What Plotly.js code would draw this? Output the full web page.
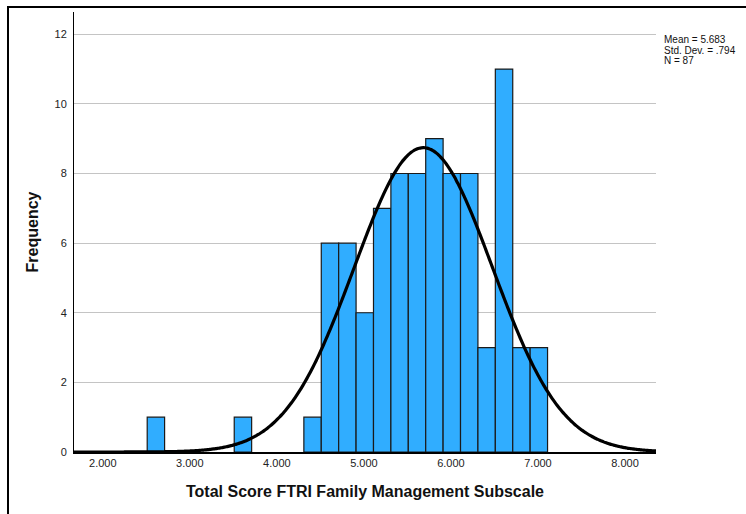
<!DOCTYPE html>
<html>
<head>
<meta charset="utf-8">
<script src="https://cdn.plot.ly/plotly-3.0.1.min.js"></script>
<style>
  html, body { margin: 0; padding: 0; background: #ffffff; }
  #chart { width: 746px; height: 514px; }
</style>
</head>
<body>
<div id="chart"></div>
<script>
// Histogram bins (centre of each 0.2-wide bin) and their frequencies
const binCenters = [2.61, 3.61, 4.41, 4.61, 4.81, 5.01, 5.21, 5.41, 5.61, 5.81, 6.01, 6.21, 6.41, 6.61, 6.81, 7.01];
const frequencies = [1, 1, 1, 6, 6, 4, 7, 8, 8, 9, 8, 8, 3, 11, 3, 3];
const binWidth = 0.2;

// Summary statistics shown in the corner
const statMean = 5.683;
const statSD = 0.794;
const statN = 87;
const statLabels = ["Mean = 5.683", "Std. Dev. = .794", "N = 87"];

// Axis ticks
const xTicks = [2, 3, 4, 5, 6, 7, 8];
const xTickText = ["2.000", "3.000", "4.000", "5.000", "6.000", "7.000", "8.000"];
const yTicks = [0, 2, 4, 6, 8, 10, 12];

const xRange = [1.669, 8.356];
const yRange = [0, 12.64];

// Normal curve scaled to histogram counts
const curveX = [];
const curveY = [];
const steps = 300;
for (let i = 0; i <= steps; i++) {
  const x = xRange[0] + (xRange[1] - xRange[0]) * i / steps;
  const z = (x - statMean) / statSD;
  curveX.push(x);
  curveY.push(statN * binWidth / (statSD * Math.sqrt(2 * Math.PI)) * Math.exp(-0.5 * z * z));
}

const font = "Arial, 'Liberation Sans', sans-serif";

const bars = {
  type: "bar",
  x: binCenters,
  y: frequencies,
  width: binCenters.map(() => binWidth),
  marker: { color: "#30adff", line: { color: "#1a1a1a", width: 1.2 } },
  hoverinfo: "x+y"
};

const curve = {
  type: "scatter",
  mode: "lines",
  x: curveX,
  y: curveY,
  line: { color: "#000000", width: 3.2, shape: "spline" },
  hoverinfo: "skip"
};

// Plot area geometry (px) used for placing the corner text and frame
const L = 74, T = 12, W = 582, H = 440;
const px2paperX = px => (px - L) / W;
const px2paperY = py => 1 - (py - T) / H;

const statY = [40, 50.7, 61];
const annotations = statLabels.map((t, i) => ({
  text: t,
  xref: "paper", yref: "paper",
  x: px2paperX(662), y: px2paperY(statY[i]),
  xanchor: "left", yanchor: "middle",
  showarrow: false,
  font: { family: font, size: 10, color: "#111" }
}));

const layout = {
  width: 746,
  height: 514,
  margin: { l: L, r: 746 - L - W, t: T, b: 514 - T - H },
  paper_bgcolor: "#ffffff",
  plot_bgcolor: "#ffffff",
  showlegend: false,
  bargap: 0,
  xaxis: {
    range: xRange,
    tickvals: xTicks,
    ticktext: xTickText,
    ticks: "",
    showgrid: false,
    zeroline: false,
    showline: true,
    linecolor: "#000",
    linewidth: 1.5,
    tickfont: { family: font, size: 11, color: "#222" },
    title: {
      text: "Total Score FTRI Family Management Subscale",
      font: { family: font, size: 16, color: "#111", weight: "bold" },
      standoff: 18
    }
  },
  yaxis: {
    range: yRange,
    tickvals: yTicks,
    ticks: "",
    showgrid: true,
    gridcolor: "#c4c4c4",
    gridwidth: 1,
    zeroline: false,
    showline: true,
    linecolor: "#000",
    linewidth: 1,
    tickfont: { family: font, size: 11, color: "#222" },
    ticklabelstandoff: 4,
    title: {
      text: "Frequency",
      font: { family: font, size: 16, color: "#111", weight: "bold" },
      standoff: 11
    }
  },
  annotations: annotations,
  shapes: [{
    type: "rect",
    xref: "paper", yref: "paper",
    x0: px2paperX(8), x1: px2paperX(780),
    y0: px2paperY(560), y1: px2paperY(7),
    line: { color: "#000", width: 2 },
    fillcolor: "rgba(0,0,0,0)",
    layer: "above"
  }]
};

Plotly.newPlot("chart", [bars, curve], layout, { displayModeBar: false, staticPlot: true });
</script>
</body>
</html>
